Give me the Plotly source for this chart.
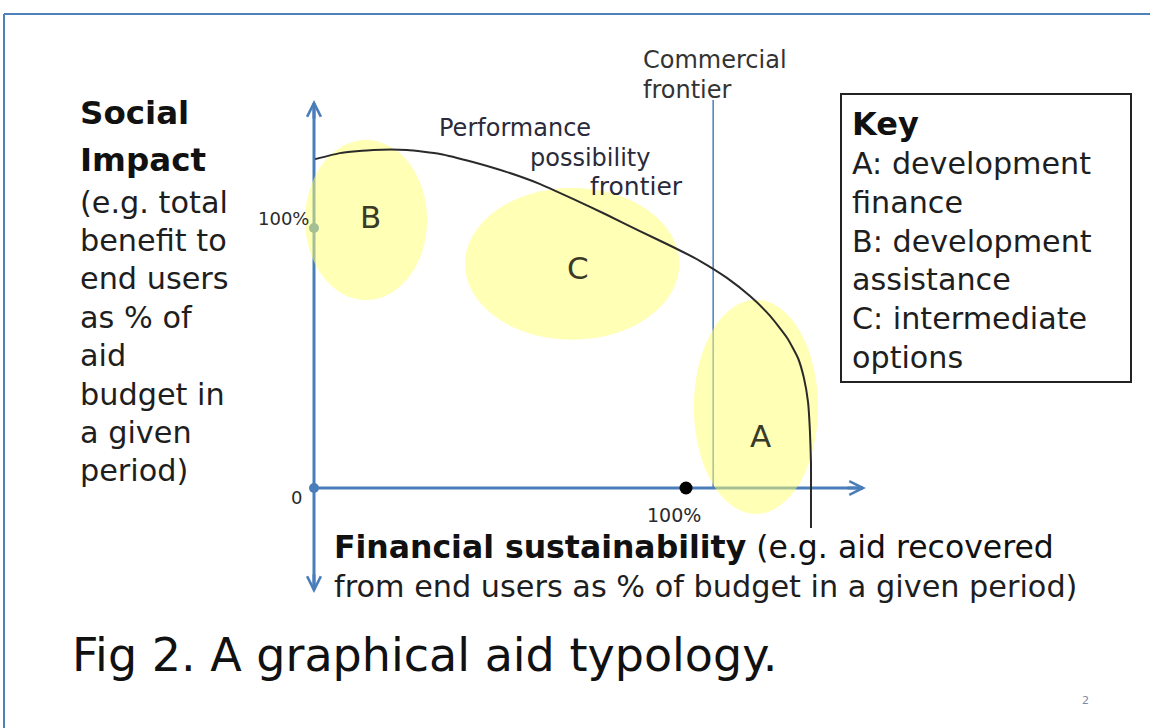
import plotly.graph_objects as go

W, H = 1150, 728

# ---- data (concept units: 1.0 = 100%) ----
frontier_fin = [0.003, 0.070, 0.159, 0.250, 0.339, 0.427, 0.519, 0.608, 0.696, 0.788, 0.876, 0.965,
                1.038, 1.110, 1.172, 1.226, 1.272, 1.301, 1.317, 1.328, 1.333, 1.336, 1.336, 1.336]
frontier_soc = [1.265, 1.288, 1.300, 1.300, 1.285, 1.254, 1.215, 1.169, 1.112, 1.050, 0.988, 0.927,
                0.873, 0.808, 0.738, 0.662, 0.577, 0.500, 0.423, 0.331, 0.223, 0.096, -0.027, -0.154]

regions = ["A", "B", "C"]
region_fin = [1.188, 0.140, 0.694]
region_soc = [0.312, 1.031, 0.862]
region_fin_spread = [0.167, 0.164, 0.288]
region_soc_spread = [0.412, 0.308, 0.292]
region_label_fin = [1.199, 0.151, 0.710]
region_label_soc = [0.200, 1.042, 0.846]

commercial_frontier_fin = 1.073
full_recovery_fin = 1.0
full_impact_soc = 1.0

y_title = ["Social", "Impact"]
y_desc = ["(e.g. total", "benefit to", "end users", "as % of", "aid", "budget in", "a given", "period)"]
key_title = "Key"
key_lines = ["A: development", "finance", "B: development", "assistance", "C: intermediate", "options"]

# ---- mapping ----
X0, XU = 314, 372
Y0, YU = 488, 260
x_range = [-X0 / XU, (W - X0) / XU]
y_range = [-(H - Y0) / YU, Y0 / YU]

def px2x(p):
    return (p - X0) / XU

def py2y(p):
    return (Y0 - p) / YU

def PX(p):
    return p / W

def PY(p):
    return 1 - p / H

BLUE = "#4a7ebb"
FONT = "DejaVu Sans"
TXT = "#1e1e1e"

fig = go.Figure()

shapes = []
# slide border
shapes.append(dict(type="line", xref="paper", yref="paper", x0=PX(4), x1=1, y0=PY(14), y1=PY(14),
                   line=dict(color="#4f81bd", width=2)))
shapes.append(dict(type="line", xref="paper", yref="paper", x0=PX(4), x1=PX(4), y0=PY(14), y1=0,
                   line=dict(color="#4f81bd", width=2)))
# axes
y_top = py2y(103)
y_bot = py2y(590)
x_end = px2x(863)
shapes.append(dict(type="line", xref="x", yref="y", x0=0, x1=0, y0=y_bot, y1=y_top,
                   line=dict(color=BLUE, width=3), layer="below"))
shapes.append(dict(type="line", xref="x", yref="y", x0=0, x1=x_end, y0=0, y1=0,
                   line=dict(color=BLUE, width=3), layer="below"))
# commercial frontier
shapes.append(dict(type="line", xref="x", yref="y", x0=commercial_frontier_fin, x1=commercial_frontier_fin,
                   y0=0, y1=py2y(100), line=dict(color=BLUE, width=1.5), layer="below"))
# axis dots
for (cx, cy) in [(0, 0), (0, full_impact_soc)]:
    shapes.append(dict(type="circle", xref="x", yref="y", xsizemode="pixel", ysizemode="pixel",
                       xanchor=cx, yanchor=cy, x0=-5, x1=5, y0=-5, y1=5,
                       fillcolor=BLUE, line=dict(width=0), layer="below"))
# ellipses
for cx, cy, rx, ry in zip(region_fin, region_soc, region_fin_spread, region_soc_spread):
    shapes.append(dict(type="circle", xref="x", yref="y", x0=cx - rx, x1=cx + rx, y0=cy - ry, y1=cy + ry,
                       fillcolor="rgba(255,255,110,0.5)", line=dict(width=0), layer="below"))
# key box
shapes.append(dict(type="rect", xref="paper", yref="paper", x0=PX(841), x1=PX(1131), y0=PY(94), y1=PY(382),
                   line=dict(color="#222", width=2), fillcolor="rgba(0,0,0,0)"))

fig.update_layout(shapes=shapes)

# frontier curve
fig.add_trace(go.Scatter(x=frontier_fin, y=frontier_soc, mode="lines",
                         line=dict(color="#2a2a2a", width=2, shape="spline", smoothing=0.5),
                         hoverinfo="skip", showlegend=False))
# 100% financial dot
fig.add_trace(go.Scatter(x=[full_recovery_fin], y=[0], mode="markers",
                         marker=dict(color="black", size=13), hoverinfo="skip", showlegend=False))

ann = []

def arrow(xh, yh, xt, yt):
    ann.append(dict(x=xh, y=yh, ax=xt, ay=yt, xref="x", yref="y", axref="x", ayref="y",
                    text="", showarrow=True, arrowhead=5, arrowsize=0.9, arrowwidth=3, arrowcolor=BLUE))

arrow(0, py2y(100), 0, py2y(120))
arrow(0, py2y(593), 0, py2y(573))
arrow(px2x(866), 0, px2x(846), 0)

def text(s, x, y, size, xanchor="left", bold=False, color=TXT):
    if bold:
        s = "<b>" + s + "</b>"
    ann.append(dict(text=s, x=PX(x), y=PY(y), xref="paper", yref="paper", xanchor=xanchor, yanchor="middle",
                    showarrow=False, font=dict(family=FONT, size=size, color=color)))

# y-axis title block
for i, s in enumerate(y_title):
    text(s, 78, 113 + 47 * i, 32.5, bold=True, color="#111")
for i, s in enumerate(y_desc):
    text(s, 78, 202 + 38.4 * i, 30.3)

# key
text(key_title, 850, 124, 32, bold=True, color="#111")
for i, s in enumerate(key_lines):
    text(s, 850, 164 + 38.6 * i, 30.2)

# x-axis title
text("<b>Financial sustainability</b> (e.g. aid recovered", 332, 547, 31.5, color="#111")
text("from end users as % of budget in a given period)", 332, 586, 30.3)

# figure caption
text("Fig 2. A graphical aid typology.", 70, 655, 46, color="#111")

# small labels
text("Commercial", 641, 60, 24, color="#333")
text("frontier", 641, 90, 24, color="#333")
text("Performance", 437, 128, 24, color="#2a2a3a")
text("possibility", 528, 158, 24, color="#2a2a3a")
text("frontier", 588, 187, 25, color="#2a2a3a")
text("100%", 311, 218, 18, xanchor="right", color="#2a2a2a")
text("0", 304, 497, 18, xanchor="right", color="#2a2a2a")
text("100%", 674, 515, 19, xanchor="center", color="#2a2a2a")
text("2", 1085, 700, 11, xanchor="center", color="#7a8aa8")

# region labels
for r, lx, ly in zip(regions, region_label_fin, region_label_soc):
    ann.append(dict(text=r, x=lx, y=ly, xref="x", yref="y", showarrow=False,
                    font=dict(family=FONT, size=31, color="#3a3a28")))

fig.update_layout(annotations=ann)

fig.update_layout(
    width=W, height=H, margin=dict(l=0, r=0, t=0, b=0),
    paper_bgcolor="white", plot_bgcolor="white",
    xaxis=dict(range=x_range, visible=False, fixedrange=True),
    yaxis=dict(range=y_range, visible=False, fixedrange=True),
    showlegend=False,
)

fig.write_html("out.html", config={"displayModeBar": False},
               post_script="document.body.style.margin='0';")
